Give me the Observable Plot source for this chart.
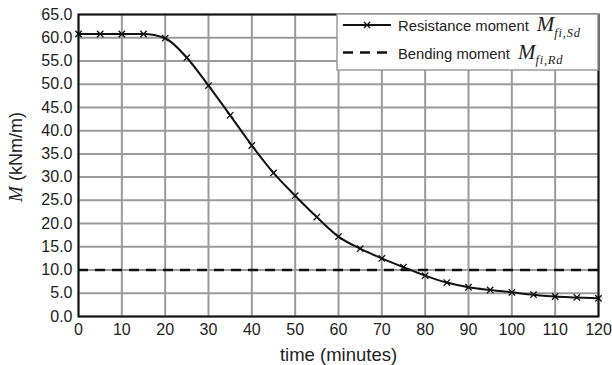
<!DOCTYPE html>
<html><head><meta charset="utf-8">
<script src="https://cdn.jsdelivr.net/npm/d3@7"></script>
<script src="https://cdn.jsdelivr.net/npm/@observablehq/plot@0.6"></script>
<style>body{margin:0;background:#fff}</style>
</head><body><div id="chart"></div>
<script>
const times = [0,5,10,15,20,25,30,35,40,45,50,55,60,65,70,75,80,85,90,95,100,105,110,115,120];
const resistance = [60.8,60.8,60.8,60.8,59.9,55.7,49.7,43.3,36.8,30.9,26.0,21.4,17.2,14.6,12.5,10.6,8.8,7.3,6.3,5.7,5.2,4.7,4.3,4.1,3.9];
const bendingMoment = [10];
const xTicks = [0,10,20,30,40,50,60,70,80,90,100,110,120];
const yTicks = [0,5,10,15,20,25,30,35,40,45,50,55,60,65];

const data = times.map((t,i)=>({t, m: resistance[i]}));
const font = "'Liberation Sans', Arial, sans-serif";
const serif = "'Liberation Serif','Times New Roman',serif";

const svg = Plot.plot({
  width: 612, height: 365,
  marginLeft: 78, marginRight: 14, marginTop: 14, marginBottom: 49,
  style: {fontFamily: font, fontSize: "16px", color: "#222", background: "#fff"},
  x: {domain: [0,120], label: null},
  y: {domain: [0,65], label: null},
  marks: [
    Plot.gridX(xTicks, {stroke: "#9a9a9a", strokeOpacity: 1, strokeWidth: 2}),
    Plot.gridY(yTicks, {stroke: "#9a9a9a", strokeOpacity: 1, strokeWidth: 2}),
    Plot.ruleY(bendingMoment, {stroke: "#111", strokeWidth: 2.5, strokeDasharray: "10,7"}),
    Plot.line(data, {x: "t", y: "m", stroke: "#111", strokeWidth: 2, curve: "monotone-x"}),
    Plot.dot(data, {x: "t", y: "m", symbol: "times", r: 3, stroke: "#111", strokeWidth: 1.3}),
    Plot.frame({stroke: "#111", strokeWidth: 2}),
    Plot.axisX(xTicks, {tickSize: 0, tickPadding: 7, fontSize: 16, fill: "#222"}),
    Plot.axisY(yTicks, {tickSize: 0, tickPadding: 6, fontSize: 16, fill: "#222", tickFormat: d => d.toFixed(1)}),
    Plot.axisX({ticks: [], label: "time (minutes)", labelAnchor: "center", labelArrow: "none", labelOffset: 44, fontSize: 18.5, fill: "#222"})
  ]
});
document.getElementById("chart").appendChild(svg);

const s = d3.select(svg);
// y axis label with italic serif M
const yl = s.append("text").attr("transform", "translate(22,157) rotate(-90)")
  .attr("text-anchor", "middle").attr("font-family", font).attr("font-size", 18).attr("fill", "#222");
yl.append("tspan").attr("font-family", serif).attr("font-style", "italic").attr("font-size", 19).text("M");
yl.append("tspan").text(" (kNm/m)");

// legend
const lg = s.append("g");
lg.append("rect").attr("x", 337).attr("y", 14).attr("width", 261).attr("height", 56)
  .attr("fill", "#fff").attr("stroke", "#9a9a9a").attr("stroke-width", 1.5);
const rows = [
  {label: "Resistance moment", sub: "fi,Sd", dash: null, marker: true, y: 25},
  {label: "Bending moment", sub: "fi,Rd", dash: "10,7", marker: false, y: 52.5}
];
rows.forEach(r => {
  lg.append("line").attr("x1", 343).attr("x2", 391).attr("y1", r.y).attr("y2", r.y)
    .attr("stroke", "#111").attr("stroke-width", r.dash ? 2.5 : 2).attr("stroke-dasharray", r.dash);
  if (r.marker) {
    lg.append("path").attr("d", `M${367-3},${r.y-3}L${367+3},${r.y+3}M${367-3},${r.y+3}L${367+3},${r.y-3}`)
      .attr("stroke", "#111").attr("stroke-width", 1.3);
  }
  const t = lg.append("text").attr("x", 398).attr("y", r.y + 6).attr("text-anchor", "start")
    .attr("font-family", font).attr("font-size", 14.8).attr("fill", "#222");
  t.append("tspan").text(r.label);
  t.append("tspan").attr("dx", 8).attr("font-family", serif).attr("font-style", "italic").attr("font-size", 21).text("M");
  t.append("tspan").attr("font-family", serif).attr("font-style", "italic").attr("font-size", 12.5)
    .attr("letter-spacing", 0.8).attr("dy", 5.5).text(r.sub);
});
</script></body></html>
